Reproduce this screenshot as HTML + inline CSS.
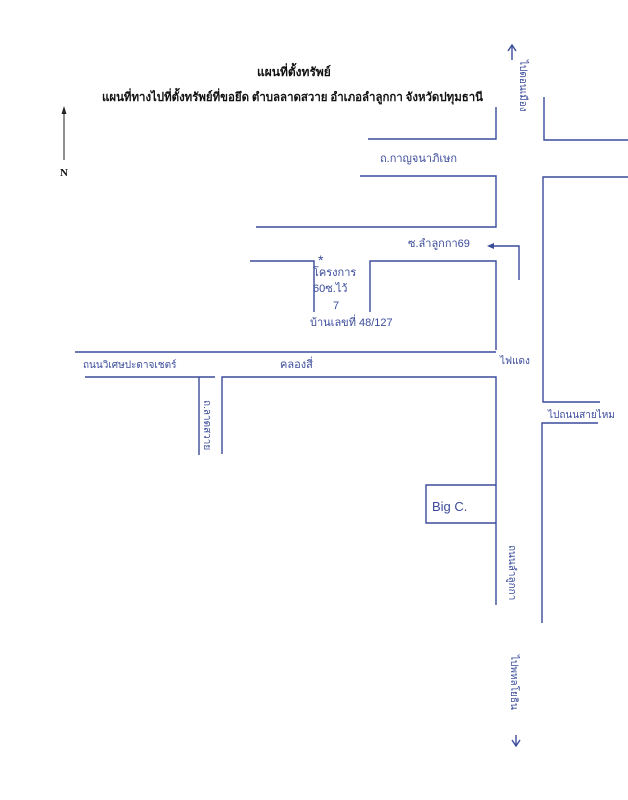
<!DOCTYPE html>
<html><head><meta charset="utf-8"><style>
html,body{margin:0;padding:0;background:#fff;}
svg{display:block}
</style></head><body>
<svg width="628" height="800" viewBox="0 0 628 800" xmlns="http://www.w3.org/2000/svg">
<rect width="628" height="800" fill="#fff"/>
<g font-family="'Liberation Serif','Noto Serif CJK SC',serif" font-weight="bold" fill="#111" font-size="12">
<text x="257" y="76">แผนที่ตั้งทรัพย์</text>
<text x="102" y="101" textLength="381" lengthAdjust="spacingAndGlyphs">แผนที่ทางไปที่ตั้งทรัพย์ที่ขอยึด  ตำบลลาดสวาย อำเภอลำลูกกา จังหวัดปทุมธานี</text>
<text x="60" y="176" font-size="11">N</text>
</g>
<line x1="64" y1="160" x2="64" y2="112" stroke="#222" stroke-width="1"/>
<polygon points="64,106 61.5,114 66.5,114" fill="#222"/>
<g stroke="#3a4b9a" stroke-width="1.4" fill="none">
<polyline points="368,139 496,139 496,107"/>
<polyline points="544,97 544,140 628,140"/>
<polyline points="360,176 496,176 496,227 256,227"/>
<polyline points="628,177 543,177 543,402 600,402"/>
<polyline points="598,423 542,423 542,623"/>
<polyline points="250,261 314,261 314,312"/>
<polyline points="370,312 370,261 496,261 496,350"/>
<polyline points="519,280 519,246 492,246"/>
<line x1="75" y1="352" x2="496" y2="352"/>
<polyline points="85,377 215,377"/>
<line x1="199" y1="377" x2="199" y2="455"/>
<polyline points="222,454 222,377 496,377 496,605"/>
<polyline points="496,485 426,485 426,523 496,523"/>
<polyline points="512,60 512,45"/>
<polyline points="508,51 512,45 516,51"/>
<polyline points="516,735 516,745"/>
<polyline points="512,740 516,746 520,740"/>
</g>
<polygon points="487,246 494,243 494,249" fill="#3a4b9a"/>
<g font-family="'Liberation Sans','Noto Sans CJK SC',sans-serif" fill="#3a4b9a" font-size="11">
<text x="380" y="162">ถ.กาญจนาภิเษก</text>
<text x="408" y="247">ซ.ลำลูกกา69</text>
<text x="318" y="265" font-size="14">*</text>
<text x="313" y="276">โครงการ</text>
<text x="313" y="292">60ซ.ไว้</text>
<text x="333" y="309">7</text>
<text x="310" y="326">บ้านเลขที่ 48/127</text>
<text x="83" y="368" font-size="10">ถนนวิเศษปะดาจเชตร์</text>
<text x="280" y="368">คลองสี่</text>
<text x="500" y="364" font-size="10">ไฟแดง</text>
<text x="548" y="418" font-size="10">ไปถนนสายไหม</text>
<text x="432" y="511" font-size="13">Big C.</text>
<text transform="translate(520,60) rotate(90)" font-size="10">ไปดอนเมือง</text>
<text transform="translate(204,400) rotate(90)" font-size="10">ถ.ลาดสวาย</text>
<text transform="translate(509,545) rotate(90)" font-size="10">ถนนลำลูกกา</text>
<text transform="translate(511,655) rotate(90)" font-size="10">ไปพหลโยธิน</text>
</g>
</svg>
</body></html>
